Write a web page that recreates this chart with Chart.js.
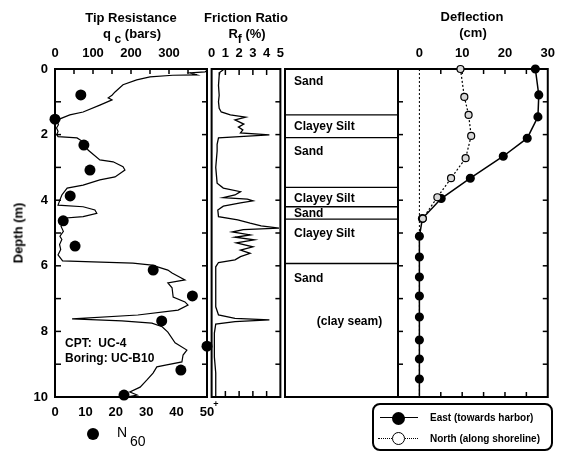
<!DOCTYPE html>
<html>
<head>
<meta charset="utf-8">
<script src="https://cdn.jsdelivr.net/npm/chart.js@4.4.1/dist/chart.umd.min.js"></script>
<style>
  body { margin: 0; background: #fff; }
  #wrap { position: relative; width: 563px; height: 454px; overflow: hidden; background: #fff;
          font-family: "Liberation Sans", Arial, sans-serif; font-weight: bold; color: #000; }
  #wrap canvas { position: absolute; top: 0; }
  .t { position: absolute; white-space: nowrap; line-height: 1; transform: translate(-50%, -50%); }
  .l { position: absolute; white-space: nowrap; line-height: 1; transform: translateY(-50%); }
  .sub { font-size: 12px; position: relative; top: 5px; }
  .dot { position: absolute; box-sizing: border-box; border-radius: 50%; }
</style>
</head>
<body>
<div id="wrap">
  <canvas id="qc" width="225" height="454" style="left:0"></canvas>
  <canvas id="rf" width="92" height="454" style="left:200px"></canvas>
  <canvas id="soil" width="125" height="454" style="left:280px"></canvas>
  <canvas id="defl" width="173" height="454" style="left:390px"></canvas>

  <div class="t" style="left:131px;top:17px;font-size:13px">Tip Resistance</div>
  <div class="t" style="left:132px;top:33px;font-size:13px">q <span class="sub">c</span> (bars)</div>
  <div class="t" style="left:246px;top:17px;font-size:13px">Friction Ratio</div>
  <div class="t" style="left:247px;top:33px;font-size:13px">R<span class="sub">f</span> (%)</div>
  <div class="t" style="left:472px;top:16px;font-size:13px">Deflection</div>
  <div class="t" style="left:473px;top:32px;font-size:13px">(cm)</div>
  <div class="t" style="left:18px;top:233px;font-size:13px;transform:translate(-50%,-50%) rotate(-90deg)">Depth (m)</div>

  <div class="l" style="left:65px;top:343px;font-size:12px">CPT:&nbsp; UC-4</div>
  <div class="l" style="left:65px;top:358px;font-size:12px">Boring: UC-B10</div>
  <div class="t" style="left:216px;top:404px;font-size:9px">+</div>

  <div class="dot" style="left:87px;top:428px;width:12px;height:12px;background:#000"></div>
  <div class="l" style="left:117px;top:432px;font-size:14px;font-weight:normal">N</div>
  <div class="l" style="left:130px;top:441px;font-size:14px;font-weight:normal">60</div>

  <div style="position:absolute;left:372px;top:403px;width:177px;height:44px;border:2px solid #000;border-radius:8px"></div>
  <div style="position:absolute;left:380px;top:417px;width:38px;border-top:1.5px solid #000"></div>
  <div class="dot" style="left:392px;top:412px;width:13px;height:13px;background:#000"></div>
  <div class="l" style="left:430px;top:418px;font-size:10px">East (towards harbor)</div>
  <div style="position:absolute;left:378px;top:438px;width:40px;border-top:1.5px dotted #000"></div>
  <div class="dot" style="left:392px;top:432px;width:13px;height:13px;background:#fff;border:1.5px solid #000"></div>
  <div class="l" style="left:430px;top:439px;font-size:10px">North (along shoreline)</div>
</div>

<script>
// cone tip resistance qc (bars) against depth (m)
const qcDepth = [0.06, 0.09, 0.12, 0.18, 0.19, 0.24, 0.33, 0.48, 0.7, 0.8, 0.88, 0.94, 1.1, 1.31, 1.4, 1.52, 1.6, 1.7, 1.8, 1.9, 2.0, 2.06,
  2.1, 2.22, 2.47, 2.77, 2.83, 2.98, 3.08, 3.29, 3.38, 3.54, 3.63, 3.84, 3.99, 4.15, 4.2, 4.3, 4.4, 4.5, 4.55, 4.65, 4.8, 4.95,
  5.1, 5.2, 5.35, 5.5, 5.67, 5.85, 5.88, 5.92, 5.98, 6.13, 6.22, 6.43, 6.52, 6.67, 6.95, 7.1, 7.2, 7.35, 7.5, 7.62, 7.68, 7.75,
  7.86, 8.02, 8.35, 8.57, 8.72, 8.93, 9.02, 9.08, 9.27, 9.48, 9.7, 9.85, 9.94, 10];
const qcBars = [398, 395, 355, 373, 310, 250, 215, 179, 158, 150, 140, 150, 118, 74, 39, 13, 6, 9, 4, 8, 5, 8,
  58, 74, 87, 118, 153, 179, 184, 158, 118, 74, 32, 18, 13, 8, 74, 105, 110, 74, 21, 26, 16, 22,
  13, 18, 12, 15, 8, 20, 100, 205, 255, 297, 308, 342, 297, 308, 311, 342, 350, 324, 218, 45, 176, 255,
  282, 297, 316, 347, 337, 334, 294, 268, 258, 242, 224, 197, 216, 189];

// SPT blow counts N60
const n60Depth = [0.79, 1.53, 2.32, 3.08, 3.87, 4.63, 5.4, 6.13, 6.92, 7.68, 8.45, 9.18, 9.94];
const n60Blows = [8.5, 0, 9.5, 11.5, 5, 2.7, 6.6, 32.3, 45.2, 35.1, 50, 41.4, 22.7];

// friction ratio Rf (%)
const rfDepth = [0.02, 0.1, 0.2, 0.5, 0.8, 1.0, 1.2, 1.31, 1.4, 1.47, 1.55, 1.68, 1.77, 1.86, 1.95, 2.01, 2.1, 2.3, 2.5,
  3.0, 3.48, 3.63, 3.74, 3.84, 3.92, 3.97, 4.02, 4.08, 4.18, 4.3, 4.5, 4.6, 4.7, 4.78, 4.85, 4.9, 4.97, 5.06, 5.13,
  5.21, 5.3, 5.42, 5.52, 5.62, 5.72, 5.82, 5.9, 6.03, 7.25, 7.5, 7.6, 7.65, 7.7, 7.78, 8.05, 8.78, 9.27, 10];
const rfPct = [0.85, 0.6, 0.55, 0.5, 0.55, 0.5, 0.55, 0.7, 1.36, 2.47, 1.7, 2.34, 1.95, 2.27, 2.1, 4.2, 0.5, 0.4, 0.4,
  0.3, 0.4, 0.85, 2.1, 1.7, 0.85, 2.6, 3.0, 2.1, 0.85, 0.45, 0.5, 1.9, 2.8, 3.6, 4.9, 2.3, 1.5, 2.8, 1.7,
  3.1, 1.8, 3.0, 2.1, 2.8, 2.1, 1.7, 0.5, 0.3, 0.3, 0.5, 1.7, 4.2, 1.7, 0.3, 0.2, 0.2, 0.3, 0.3];

// soil profile
const soilBounds = [1.4, 2.09, 3.61, 4.2, 4.58, 5.93];
const soilNames = ['Sand', 'Clayey Silt', 'Sand', 'Clayey Silt', 'Sand', 'Clayey Silt', 'Sand'];
const soilLabelDepth = [0.4, 1.77, 2.53, 3.95, 4.4, 5.03, 6.4];
const seamNote = '(clay seam)';
const seamDepth = 7.7;

// pile deflection (cm)
const eastDepth = [0, 0.79, 1.46, 2.11, 2.66, 3.33, 3.95, 4.56, 5.1, 5.73, 6.34, 6.92, 7.56, 8.26, 8.84, 9.45, 10];
const eastCm = [27.1, 27.9, 27.7, 25.2, 19.6, 11.9, 5.1, 0.7, 0, 0, 0, 0, 0, 0, 0, 0, 0];
const northDepth = [0, 0.85, 1.4, 2.04, 2.72, 3.33, 3.91, 4.56];
const northCm = [9.6, 10.5, 11.5, 12.1, 10.8, 7.4, 4.2, 0.8];

// axis labels and tick marks
const depthLabels = [0, 2, 4, 6, 8, 10];
const depthMarks = [0, 1, 2, 3, 4, 5, 6, 7, 8, 9, 10];
const innerDepthMarks = [1, 2, 3, 4, 5, 6, 7, 8, 9];
const qcLabels = [0, 100, 200, 300];
const qcMarks = [50, 100, 150, 200, 250, 300, 350];
const n60Labels = [0, 10, 20, 30, 40, 50];
const rfLabels = [0, 1, 2, 3, 4, 5];
const rfMarks = [1, 2, 3, 4];
const deflLabels = [0, 10, 20, 30];
const deflMarks = [5, 10, 15, 20, 25];

const black = '#000';
const tickFont = { family: 'Liberation Sans', size: 13, weight: 'bold' };
Chart.defaults.font.family = 'Liberation Sans';

const pts = (ys, xs) => ys.map((y, i) => ({ x: xs[i], y }));

// fixed-size axis boxes so every panel's plot area lines up (top 69, bottom 397)
function xAxis(position, min, max, labels, size) {
  return {
    type: 'linear', position, min, max,
    afterBuildTicks: s => { s.ticks = labels.map(v => ({ value: v })); },
    afterFit: s => { s.height = size; },
    ticks: { font: tickFont, color: black, padding: 8, maxRotation: 0, autoSkip: false },
    grid: { display: false, drawTicks: false },
    border: { display: false }
  };
}

function depthAxis(show) {
  return {
    type: 'linear', reverse: true, min: 0, max: 10, display: show,
    afterBuildTicks: s => { s.ticks = depthLabels.map(v => ({ value: v })); },
    afterFit: s => { s.width = show ? 55 : 0; },
    ticks: { font: tickFont, color: black, padding: 7, autoSkip: false },
    grid: { display: false, drawTicks: false },
    border: { display: false }
  };
}

// frame around the plot area plus small inward tick marks
function makeFrame(marks) {
  return {
    id: 'frame',
    beforeDatasetsDraw(chart) {
      const { ctx, chartArea: a } = chart;
      ctx.save();
      ctx.strokeStyle = black;
      ctx.lineWidth = 1.5;
      marks.forEach(m => {
        const s = chart.scales[m.scale];
        m.values.forEach(v => {
          const p = s.getPixelForValue(v);
          ctx.beginPath();
          if (m.side === 'left') { ctx.moveTo(a.left, p); ctx.lineTo(a.left + m.len, p); }
          if (m.side === 'right') { ctx.moveTo(a.right, p); ctx.lineTo(a.right - m.len, p); }
          if (m.side === 'top') { ctx.moveTo(p, a.top); ctx.lineTo(p, a.top + m.len); }
          if (m.side === 'bottom') { ctx.moveTo(p, a.bottom); ctx.lineTo(p, a.bottom - m.len); }
          ctx.stroke();
        });
      });
      ctx.lineWidth = 2;
      ctx.strokeRect(a.left, a.top, a.right - a.left, a.bottom - a.top);
      ctx.restore();
    }
  };
}

const soilPlugin = {
  id: 'soil',
  beforeDatasetsDraw(chart) {
    const { ctx, chartArea: a, scales: { y } } = chart;
    ctx.save();
    ctx.strokeStyle = black;
    ctx.lineWidth = 1.3;
    soilBounds.forEach(d => {
      const p = y.getPixelForValue(d);
      ctx.beginPath(); ctx.moveTo(a.left, p); ctx.lineTo(a.right, p); ctx.stroke();
    });
    ctx.fillStyle = black;
    ctx.font = 'bold 12px "Liberation Sans"';
    ctx.textBaseline = 'middle';
    soilNames.forEach((n, i) => ctx.fillText(n, a.left + 9, y.getPixelForValue(soilLabelDepth[i])));
    ctx.textAlign = 'center';
    ctx.fillText(seamNote, (a.left + a.right) / 2 + 8, y.getPixelForValue(seamDepth));
    ctx.restore();
  }
};

function baseOptions(padding, scales) {
  return {
    responsive: false, animation: false, devicePixelRatio: 1,
    layout: { padding },
    scales,
    plugins: { legend: { display: false }, tooltip: { enabled: false } }
  };
}

// tip resistance + N60
new Chart(document.getElementById('qc'), {
  type: 'scatter',
  data: {
    datasets: [
      { data: pts(n60Depth, n60Blows), xAxisID: 'xn', yAxisID: 'y', pointRadius: 5.5,
        backgroundColor: black, borderColor: black, borderWidth: 0, clip: false },
      { data: pts(qcDepth, qcBars), xAxisID: 'xq', yAxisID: 'y', showLine: true, pointRadius: 0,
        borderColor: black, borderWidth: 1.2 }
    ]
  },
  options: baseOptions({ left: 0, right: 18, top: 0, bottom: 0 }, {
    xq: xAxis('top', 0, 400, qcLabels, 69),
    xn: xAxis('bottom', 0, 50, n60Labels, 57),
    y: depthAxis(true)
  }),
  plugins: [makeFrame([
    { side: 'left', scale: 'y', values: depthMarks, len: 6 },
    { side: 'right', scale: 'y', values: innerDepthMarks, len: 5 },
    { side: 'top', scale: 'xq', values: qcMarks, len: 5 }
  ])]
});

// friction ratio
new Chart(document.getElementById('rf'), {
  type: 'scatter',
  data: {
    datasets: [
      { data: pts(rfDepth, rfPct), showLine: true, pointRadius: 0, borderColor: black, borderWidth: 1.3 }
    ]
  },
  options: baseOptions({ left: 7, right: 7, top: 0, bottom: 57 }, {
    x: xAxis('top', 0, 5, rfLabels, 69),
    y: depthAxis(false)
  }),
  plugins: [makeFrame([
    { side: 'top', scale: 'x', values: rfMarks, len: 6 },
    { side: 'bottom', scale: 'x', values: rfMarks, len: 6 },
    { side: 'right', scale: 'y', values: innerDepthMarks, len: 5 }
  ])]
});

// soil column
new Chart(document.getElementById('soil'), {
  type: 'scatter',
  data: { datasets: [] },
  options: baseOptions({ left: 5, right: 7, top: 69, bottom: 57 }, {
    x: { type: 'linear', display: false, min: 0, max: 1 },
    y: depthAxis(false)
  }),
  plugins: [makeFrame([]), soilPlugin]
});

// deflection
new Chart(document.getElementById('defl'), {
  type: 'scatter',
  data: {
    datasets: [
      { data: [{ x: 0, y: 0 }, { x: 0, y: 10 }], showLine: true, pointRadius: 0,
        borderColor: black, borderWidth: 1, borderDash: [2, 2] },
      { data: pts(northDepth, northCm), showLine: true, pointRadius: 3.5, borderWidth: 1.2,
        borderColor: black, backgroundColor: '#d8d8d8', borderDash: [2, 2], clip: false },
      { data: pts(eastDepth, eastCm), showLine: true, borderWidth: 1.5,
        pointRadius: c => (eastDepth[c.dataIndex] >= 10 ? 0 : 3.8),
        borderColor: black, backgroundColor: black, clip: false }
    ]
  },
  options: baseOptions({ left: 8, right: 14, top: 0, bottom: 57 }, {
    x: xAxis('top', -5, 30, deflLabels, 69),
    y: depthAxis(false)
  }),
  plugins: [makeFrame([
    { side: 'left', scale: 'y', values: innerDepthMarks, len: 5 },
    { side: 'right', scale: 'y', values: innerDepthMarks, len: 5 },
    { side: 'top', scale: 'x', values: deflMarks, len: 5 },
    { side: 'bottom', scale: 'x', values: deflMarks, len: 5 }
  ])]
});
</script>
</body>
</html>
